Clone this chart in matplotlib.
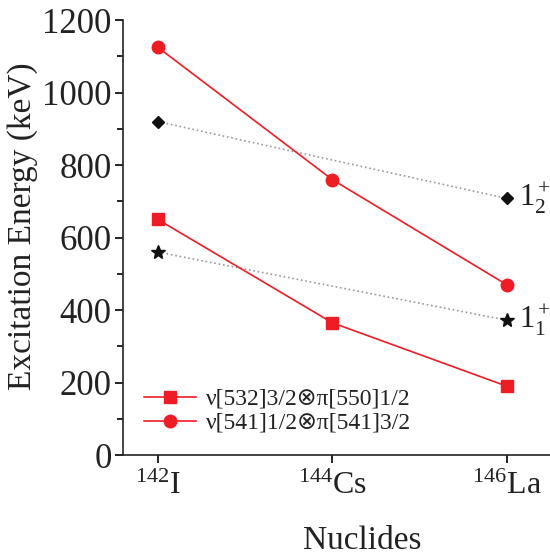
import matplotlib
matplotlib.use("Agg")
import matplotlib.pyplot as plt
from matplotlib.ticker import MultipleLocator

plt.rcParams['font.family'] = ['Liberation Serif', 'DejaVu Serif']
plt.rcParams['mathtext.fontset'] = 'custom'
plt.rcParams['mathtext.rm'] = 'Liberation Serif'
plt.rcParams['mathtext.it'] = 'Liberation Serif:italic'

nuclides = [r'$^{142}$I', r'$^{144}$Cs', r'$^{146}$La']
x_pos = [0, 1, 2]

# nu[532]3/2 x pi[550]1/2
band_sq = [650, 365, 190]
# nu[541]1/2 x pi[541]3/2
band_ci = [1125, 760, 470]

# 1+ states (142I and 146La only)
x_dot = [0, 2]
state_1_1 = [560, 372]
state_1_2 = [920, 708]
state_labels = [r'$\mathrm{1}_\mathrm{1}^+$', r'$\mathrm{1}_\mathrm{2}^+$']

text_col = '#222222'
red = '#ee1c25'

fig = plt.figure(figsize=(5.5, 5.59), dpi=100)
ax = fig.add_axes([0.2236, 0.186, 0.777, 0.778])

ax.plot(x_dot, state_1_1, ls=':', color='#999999', lw=1.2, zorder=1)
ax.plot(x_dot, state_1_1, ls='none', marker='*', ms=10, color='#111111', zorder=3)
ax.plot(x_dot, state_1_2, ls=':', color='#999999', lw=1.2, zorder=1)
ax.plot(x_dot, state_1_2, ls='none', marker='D', ms=6, color='#111111', zorder=3)

ax.plot(x_pos, band_sq, '-s', color=red, ms=8, lw=1.2,
        label=r'ν[532]3/2⊗π[550]1/2', zorder=2)
ax.plot(x_pos, band_ci, '-o', color=red, ms=9, lw=1.2,
        label=r'ν[541]1/2⊗π[541]3/2', zorder=2)

# 1^+ state labels next to the 146La points
for y, lab in zip([state_1_1[1], state_1_2[1]], state_labels):
    ax.annotate(lab, (2, y), xytext=(9, 0), textcoords='offset points',
                fontsize=22, color=text_col, va='center', ha='left')

ax.set_xlim(-0.2, 2.25)
ax.set_ylim(0, 1200)
ax.set_xticks(x_pos)
ax.set_xticklabels(nuclides, fontsize=23, color=text_col)
ax.yaxis.set_major_locator(MultipleLocator(200))
ax.yaxis.set_minor_locator(MultipleLocator(100))
ax.tick_params(axis='y', labelsize=25, labelcolor=text_col, direction='out', length=6, width=1.2, pad=2)
ax.tick_params(axis='y', which='minor', direction='out', length=4, width=1.2)
ax.tick_params(axis='x', direction='out', length=6, width=1.2, pad=6)

for side in ['top', 'right']:
    ax.spines[side].set_visible(False)
for side in ['left', 'bottom']:
    ax.spines[side].set_linewidth(1.2)
    ax.spines[side].set_color('#222222')

ax.set_ylabel('Excitation Energy (keV)', fontsize=24, color=text_col)
ax.yaxis.set_label_coords(-0.2, 0.526)
ax.set_xlabel('Nuclides', fontsize=24, color=text_col)
ax.xaxis.set_label_coords(0.56, -0.163)

leg = ax.legend(loc='lower left', bbox_to_anchor=(0.0, 0.0), frameon=False,
                handlelength=2.2, handletextpad=0.4, labelspacing=0.1,
                prop={'family': ['Liberation Serif', 'DejaVu Sans'], 'size': 17})
for t in leg.get_texts():
    t.set_color(text_col)

fig.savefig('out.png', dpi=100)
